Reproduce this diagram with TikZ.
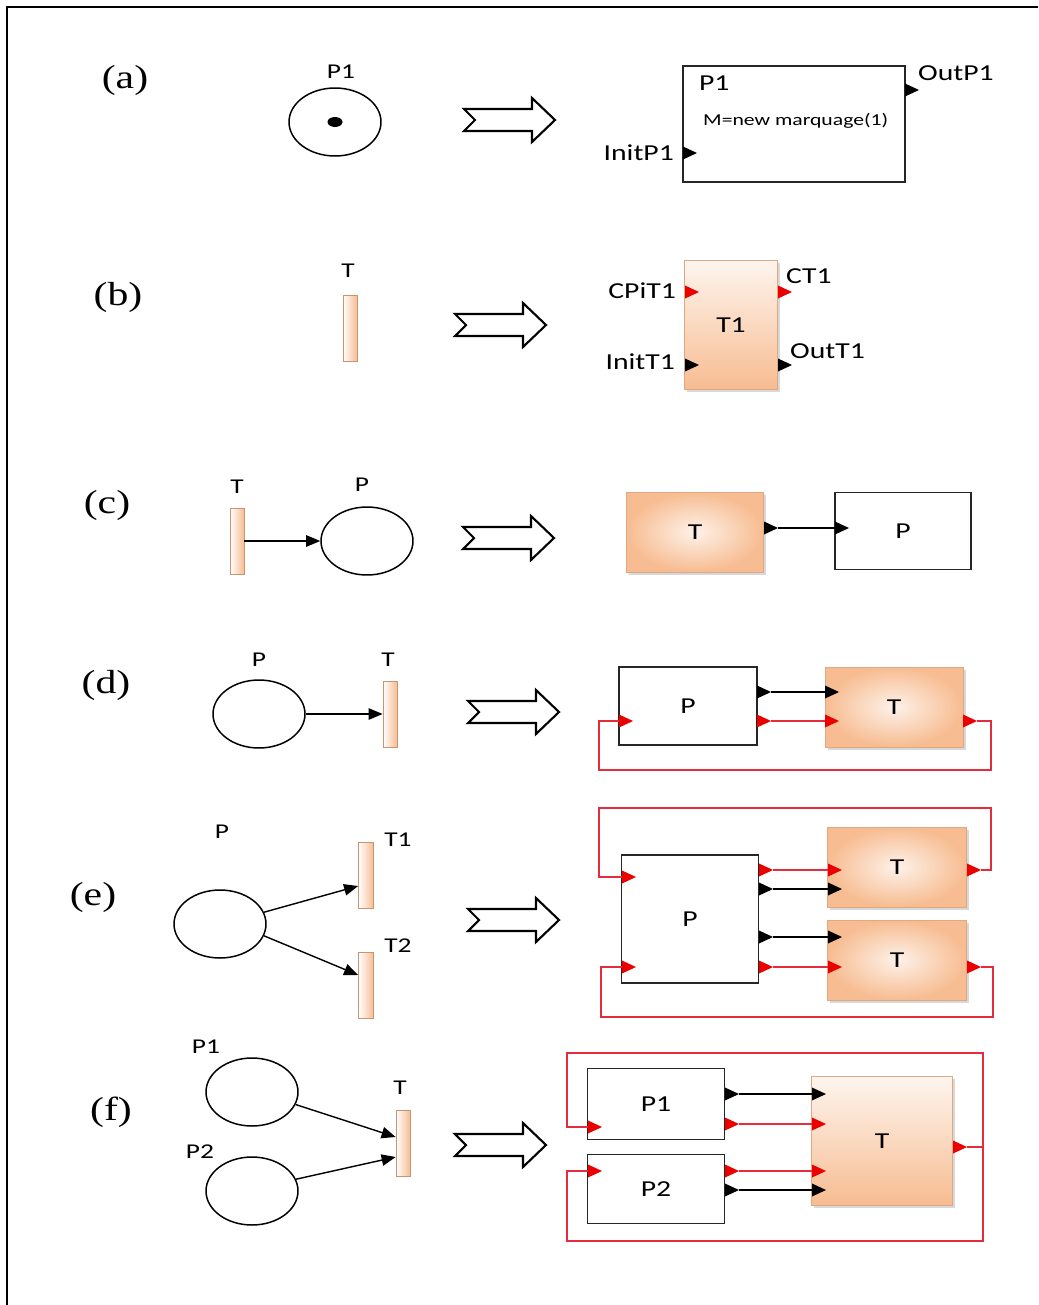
\documentclass[tikz,border=0pt]{standalone}
\usepackage{fontspec}
\setmainfont{Carlito}
\newfontfamily\lblfont[FakeStretch=1.3]{Carlito}
\newfontfamily\capfont[FakeStretch=1.25]{Liberation Serif}
\usetikzlibrary{shapes.geometric,arrows.meta,shadows}
\definecolor{peach}{RGB}{247,188,145}
\definecolor{wirered}{RGB}{228,45,60}
\definecolor{portred}{RGB}{235,0,0}
\def\hollowarrow{++(0,-11) -- ++(68,0) -- ++(0,-11) -- ++(23,22) -- ++(-23,22) -- ++(0,-11) -- ++(-68,0) -- ++(11,-11) -- cycle}
\newcommand{\blkin}[4]{\coordinate (#1) at (#3,#4); \fill[#2] (#1) ++(0,-6.5) -- ++(14,6.5) -- ++(-14,6.5) -- cycle;}
\newcommand{\blkout}[4]{\coordinate (#1) at (#3+14,#4); \fill[#2] (#3,#4) ++(0,-6.5) -- ++(14,6.5) -- ++(-14,6.5) -- cycle;}
\tikzset{
  place/.style={draw, ellipse, line width=0.85pt, minimum width=1.84cm, minimum height=1.36cm, inner sep=0},
  trans/.style={draw=peach!80!black, line width=0.4pt, left color=white, right color=peach, minimum width=0.28cm, minimum height=1.32cm, inner sep=0},
  pblock/.style={draw=black!85, line width=1.1pt, fill=white, font=\lblfont\fontsize{13}{15}\selectfont},
  tblock/.style={draw=peach!90!black, line width=0.3pt, top color=peach!15, bottom color=peach, drop shadow={shadow xshift=1.5pt, shadow yshift=-1.5pt, fill=black!30}, font=\lblfont\fontsize{13}{15}\selectfont},
  tblockr/.style={tblock, shading=radial, inner color=peach!20, outer color=peach},
  lbl/.style={font=\lblfont\fontsize{12}{14}\selectfont},
  plbl/.style={font=\lblfont\fontsize{13}{15}\selectfont, inner sep=1pt},
  caption/.style={font=\capfont\fontsize{19}{22}\selectfont},
  arc/.style={-{Triangle[length=8pt,width=6.5pt]}, line width=0.8pt},
  bwire/.style={line width=0.8pt},
  rwire/.style={wirered, line width=0.8pt},
  bigarrow/.style={line width=1.2pt, line join=miter, fill=white},
}
\begin{document}
\begin{tikzpicture}[x=0.02cm, y=-0.02cm]
  \useasboundingbox (0,0) rectangle (1038,1305);
  % Frame
  \draw[line width=1.1pt] (7,1305) -- (7,7) -- (1038,7);

  % (a)
  \node[caption] (capa) at (125,80) {(a)};
  \node[place] (pa) at (335,122) {};
  \node[fill, ellipse, minimum width=0.3cm, minimum height=0.2cm, inner sep=0] (tok) at (pa) {};
  \node[lbl] (pa-l) at (341,72) {P1};
  \draw[bigarrow] (464,120) \hollowarrow;
  \node[pblock, minimum width=4.44cm, minimum height=2.32cm] (PA) at (794,124) {};
  \node[plbl, anchor=west] (PA-l) at (697,83) {P1};
  \node[font=\lblfont\fontsize{9.5}{11}\selectfont, anchor=west] (PA-m) at (697,121) {M=new marquage(1)};
  \blkin{pa-in}{black}{683}{153}
  \blkout{pa-out}{black}{905}{90}
  \node[plbl, anchor=east] (pa-in-l) at (676,153) {InitP1};
  \node[plbl, anchor=west] (pa-out-l) at (916,73) {OutP1};

  % (b)
  \node[caption] (capb) at (118,297) {(b)};
  \node[trans] (tb) at (350,328) {};
  \node[lbl] (tb-l) at (348,271) {T};
  \draw[bigarrow] (455,325) \hollowarrow;
  \node[tblock, minimum width=1.86cm, minimum height=2.58cm] (TB) at (731,325) {T1};
  \blkin{tb-cp}{portred}{685}{292}
  \blkout{tb-c}{portred}{778}{292}
  \blkin{tb-init}{black}{685}{365}
  \blkout{tb-out}{black}{778}{365}
  \node[plbl, anchor=east] (tb-cp-l) at (678,291) {CPiT1};
  \node[plbl, anchor=west] (tb-c-l) at (784,276) {CT1};
  \node[plbl, anchor=east] (tb-init-l) at (677,362) {InitT1};
  \node[plbl, anchor=west] (tb-out-l) at (788,351) {OutT1};

  % (c)
  \node[caption] (capc) at (107,505) {(c)};
  \node[trans] (tc) at (237,541) {};
  \node[lbl] (tc-l) at (237,487) {T};
  \node[place] (pc) at (367,541) {};
  \node[lbl] (pc-l) at (362,485) {P};
  \draw[arc] (tc.east) -- (pc.west);
  \draw[bigarrow] (463,538) \hollowarrow;
  \node[tblockr, minimum width=2.74cm, minimum height=1.6cm] (TC) at (695,532) {T};
  \node[pblock, minimum width=2.72cm, minimum height=1.54cm] (PC) at (903,531) {P};
  \blkout{tc-out}{black}{764}{528}
  \blkin{pc-in}{black}{835}{528}
  \draw[bwire] (tc-out) -- (pc-in);

  % (d)
  \node[caption] (capd) at (106,685) {(d)};
  \node[place] (pd) at (259,714) {};
  \node[lbl] (pd-l) at (259,660) {P};
  \node[trans] (td) at (390,714) {};
  \node[lbl] (td-l) at (388,660) {T};
  \draw[arc] (pd.east) -- (td.west);
  \draw[bigarrow] (468,712) \hollowarrow;
  \node[pblock, minimum width=2.76cm, minimum height=1.56cm] (PD) at (688,706) {P};
  \node[tblockr, minimum width=2.76cm, minimum height=1.6cm] (TD) at (894,707) {T};
  \blkout{pd-o}{black}{757}{692}
  \blkin{td-i}{black}{825}{692}
  \blkout{pd-c}{portred}{757}{721}
  \blkin{td-c}{portred}{825}{721}
  \blkout{td-o}{portred}{963}{721}
  \blkin{pd-i}{portred}{619}{721}
  \draw[bwire] (pd-o) -- (td-i);
  \draw[rwire] (pd-c) -- (td-c);
  \draw[rwire] (td-o) -| (991,770) -| (599,721) -- (pd-i);

  % (e)
  \node[caption] (cape) at (93,897) {(e)};
  \node[place] (pe) at (220,924) {};
  \node[lbl] (pe-l) at (222,832) {P};
  \node[trans, minimum width=0.3cm] (te1) at (366,875) {};
  \node[lbl] (te1-l) at (398,840) {T1};
  \node[trans, minimum width=0.3cm] (te2) at (366,985) {};
  \node[lbl] (te2-l) at (398,946) {T2};
  \draw[arc] (pe.15) -- ([yshift=-0.22cm]te1.west);
  \draw[arc] (pe.-15) -- ([yshift=0.2cm]te2.west);
  \draw[bigarrow] (468,920) \hollowarrow;
  \node[pblock, minimum width=2.74cm, minimum height=2.56cm] (PE) at (690,919) {P};
  \node[tblockr, minimum width=2.78cm, minimum height=1.6cm] (TE1) at (897,867) {T};
  \node[tblockr, minimum width=2.78cm, minimum height=1.6cm] (TE2) at (897,960) {T};
  \blkout{pe-c1}{portred}{759}{870}
  \blkin{te1-c}{portred}{828}{870}
  \blkout{pe-o1}{black}{759}{889}
  \blkin{te1-i}{black}{828}{889}
  \blkout{pe-o2}{black}{759}{937}
  \blkin{te2-i}{black}{828}{937}
  \blkout{pe-c2}{portred}{759}{967}
  \blkin{te2-c}{portred}{828}{967}
  \blkout{te1-o}{portred}{967}{870}
  \blkin{pe-i1}{portred}{622}{877}
  \blkout{te2-o}{portred}{967}{967}
  \blkin{pe-i2}{portred}{622}{967}
  \draw[rwire] (pe-c1) -- (te1-c);
  \draw[bwire] (pe-o1) -- (te1-i);
  \draw[bwire] (pe-o2) -- (te2-i);
  \draw[rwire] (pe-c2) -- (te2-c);
  \draw[rwire] (te1-o) -| (991,808) -| (599,877) -- (pe-i1);
  \draw[rwire] (te2-o) -| (993,1017) -| (601,967) -- (pe-i2);

  % (f)
  \node[caption] (capf) at (111,1112) {(f)};
  \node[place] (pf1) at (252,1092) {};
  \node[lbl] (pf1-l) at (206,1047) {P1};
  \node[place] (pf2) at (252,1191) {};
  \node[lbl] (pf2-l) at (200,1152) {P2};
  \node[trans] (tf) at (403,1143) {};
  \node[lbl] (tf-l) at (400,1088) {T};
  \draw[arc] (pf1.-16) -- ([yshift=0.12cm]tf.west);
  \draw[arc] (pf2.15) -- ([yshift=-0.28cm]tf.west);
  \draw[bigarrow] (455,1145) \hollowarrow;
  \node[pblock, minimum width=2.74cm, minimum height=1.42cm] (PF1) at (656,1104) {P1};
  \node[pblock, minimum width=2.74cm, minimum height=1.38cm] (PF2) at (656,1189) {P2};
  \node[tblock, minimum width=2.82cm, minimum height=2.58cm] (TF) at (882,1141) {T};
  \blkout{pf1-o}{black}{725}{1094}
  \blkin{tf-i1}{black}{812}{1094}
  \blkout{pf1-c}{portred}{725}{1124}
  \blkin{tf-c1}{portred}{812}{1124}
  \blkout{pf2-c}{portred}{725}{1171}
  \blkin{tf-c2}{portred}{812}{1171}
  \blkout{pf2-o}{black}{725}{1190}
  \blkin{tf-i2}{black}{812}{1190}
  \blkout{tf-o}{portred}{953}{1147}
  \blkin{pf1-i}{portred}{588}{1127}
  \blkin{pf2-i}{portred}{588}{1171}
  \draw[bwire] (pf1-o) -- (tf-i1);
  \draw[rwire] (pf1-c) -- (tf-c1);
  \draw[rwire] (pf2-c) -- (tf-c2);
  \draw[bwire] (pf2-o) -- (tf-i2);
  \draw[rwire] (tf-o) -| (983,1053) -| (567,1127) -- (pf1-i);
  \draw[rwire] (tf-o) -| (983,1241) -| (567,1171) -- (pf2-i);
\end{tikzpicture}
\end{document}
